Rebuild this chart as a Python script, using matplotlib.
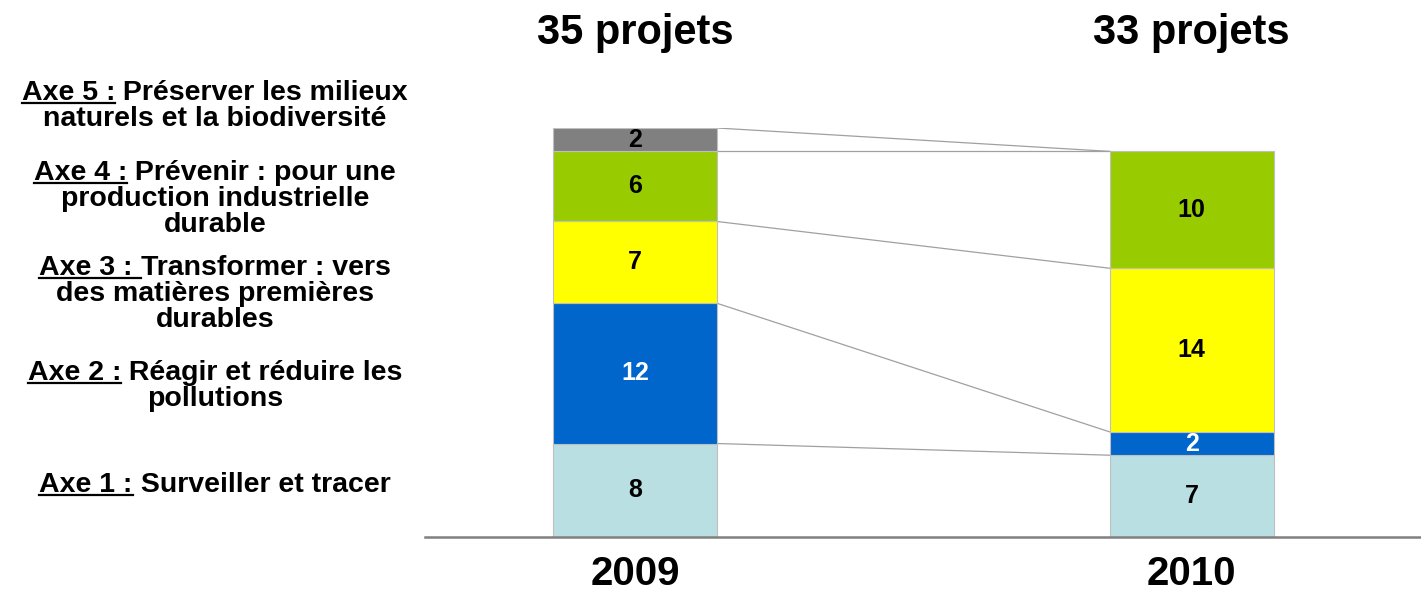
import matplotlib
matplotlib.use('Agg')
import matplotlib.pyplot as plt
import matplotlib.transforms as mtransforms
from matplotlib.lines import Line2D
import numpy as np

plt.rcParams['font.family'] = ['Liberation Sans', 'DejaVu Sans']
plt.rcParams['font.weight'] = 'bold'

# données
years = ['2009', '2010']
axe1 = [8, 7]
axe2 = [12, 2]
axe3 = [7, 14]
axe4 = [6, 10]
axe5 = [2, 0]
series = [axe1, axe2, axe3, axe4, axe5]
colors = ['#B9DFE3', '#0066CC', '#FFFF00', '#99CC00', '#808080']
text_colors = ['black', 'white', 'black', 'black', 'black']

# libellés des axes (préfixe souligné, suite de la 1re ligne, lignes suivantes)
labels = [
    ('Axe 5 :', ' Préserver les milieux', ['naturels et la biodiversité']),
    ('Axe 4 :', ' Prévenir : pour une', ['production industrielle', 'durable']),
    ('Axe 3 : ', 'Transformer : vers', ['des matières premières', 'durables']),
    ('Axe 2 :', ' Réagir et réduire les', ['pollutions']),
    ('Axe 1 :', ' Surveiller et tracer', []),
]
first_baselines = [100, 180, 275, 380, 492]  # px depuis le haut

W, H = 1421, 595
fig = plt.figure(figsize=(W / 100, H / 100), dpi=100)
ax = fig.add_axes([425 / W, 1 - 537 / H, 1 - 425 / W, (537 - 128) / H])

x = np.arange(len(years))
width = 0.295
bottom = np.zeros(len(years))
tops = []
for vals, col, tc in zip(series, colors, text_colors):
    vals = np.array(vals, dtype=float)
    ax.bar(x, vals, width, bottom=bottom, color=col, edgecolor='#BFBFBF',
           linewidth=0.8, zorder=2)
    for xi, v, b in zip(x, vals, bottom):
        if v > 0:
            ax.text(xi, b + v / 2, f'{int(v)}', ha='center', va='center',
                    fontsize=18, fontweight='bold', color=tc, zorder=3)
    bottom = bottom + vals
    tops.append(bottom.copy())

# lignes de liaison entre les deux colonnes
for t in tops:
    ax.plot([x[0] + width / 2, x[1] - width / 2], [t[0], t[1]],
            color='#A0A0A0', linewidth=0.9, zorder=1)

ax.set_xlim(-0.377, 1.412)
ax.set_ylim(0, 35)
for s in ['top', 'right', 'left']:
    ax.spines[s].set_visible(False)
ax.spines['bottom'].set_color('#808080')
ax.spines['bottom'].set_linewidth(1.8)
ax.set_yticks([])
ax.set_xticks(x, years)
ax.tick_params(axis='x', length=0, pad=13, labelsize=29)
for lbl in ax.get_xticklabels():
    lbl.set_fontweight('bold')

# totaux au-dessus
trans = mtransforms.blended_transform_factory(ax.transData, fig.transFigure)
totals = bottom
for xi, tot in zip(x, totals):
    ax.text(xi, 1 - 33 / H, f'{int(tot)} projets', transform=trans,
            ha='center', va='center', fontsize=30, fontweight='bold')

# libellés à gauche avec soulignement
renderer = fig.canvas.get_renderer()
ident = mtransforms.IdentityTransform()
cx = 215
step = 26
fs = 20.5
for (prefix, rest, more), by in zip(labels, first_baselines):
    y = H - by
    tmp = fig.text(cx, y, prefix + rest, transform=ident, ha='center',
                   va='baseline', fontsize=fs, fontweight='bold')
    bb = tmp.get_window_extent(renderer)
    tmp.remove()
    p = fig.text(bb.x0, y, prefix, transform=ident, ha='left', va='baseline',
                 fontsize=fs, fontweight='bold')
    fig.text(bb.x1, y, rest, transform=ident, ha='right', va='baseline',
             fontsize=fs, fontweight='bold')
    pb = p.get_window_extent(renderer)
    fig.add_artist(Line2D([pb.x0, pb.x1], [y - 3, y - 3], transform=ident,
                          color='black', linewidth=1.6))
    for k, line in enumerate(more):
        fig.text(cx, y - step * (k + 1), line, transform=ident, ha='center',
                 va='baseline', fontsize=fs, fontweight='bold')

fig.savefig('out.png', dpi=100)
